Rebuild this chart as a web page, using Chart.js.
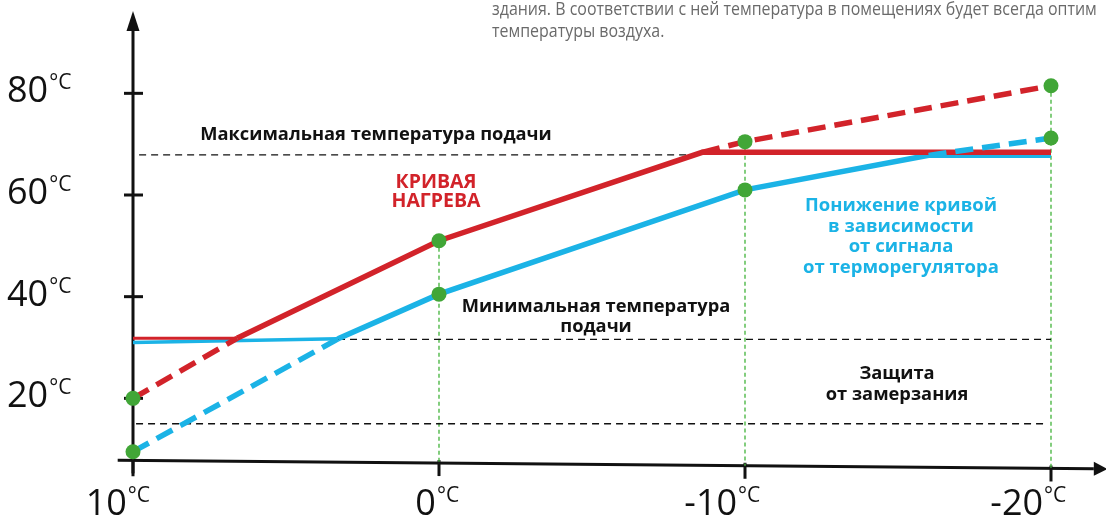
<!DOCTYPE html>
<html>
<head>
<meta charset="utf-8">
<script src="https://cdn.jsdelivr.net/npm/chart.js@4.4.1/dist/chart.umd.min.js"></script>
<style>
    html, body { margin: 0; padding: 0; background: #fff; }
    #wrap { width: 1106px; height: 522px; }
</style>
</head>
<body>
<div id="wrap"><canvas id="curveChart" width="1106" height="522"></canvas></div>
<script>
// outdoor temperature, °C (axis runs from +10 down to -20)
const outdoorTemps = [10, 0, -10, -20];
const supplyTicks = [80, 60, 40, 20];

// supply temperature at the marked outdoor temperatures
const heatingCurve = [20, 51, 70.5, 81.5];
const loweredCurve = [9.5, 40.5, 61, 71.2];

// outdoor temperature where each curve meets the min / max supply limit
const heatingBreaks = [6.6, -8.6];
const loweredBreaks = [3.3, -16.0];

// supply limits
const maxSupply = 67.9;
const minSupply = 31.6;
const frostGuard = 15;

// levels of the clamped parts of the curves
const heatingFloor = 31.8;
const heatingCap = 68.4;
const loweredFloor = [31.0, 31.7];
const loweredCap = 67.8;

// x axis line height (supply °C) at +10 and at -20
const xAxisLevel = [7.8, 6.2];

const RED = '#d2232a';
const BLUE = '#1bb3e6';
const GREEN = '#41a637';
const GREEN_LINE = '#4fb848';
const INK = '#111';

const pt = (x, y) => ({ x, y });
const axisAt = (t) => xAxisLevel[0] + (xAxisLevel[1] - xAxisLevel[0]) * (10 - t) / 30;

const line = (data, color, width, dash) => ({
    data,
    borderColor: color,
    backgroundColor: color,
    borderWidth: width,
    borderDash: dash || [],
    borderCapStyle: 'butt',
    borderJoinStyle: 'miter',
    showLine: true,
    pointRadius: 0,
    fill: false,
    clip: false,
});

const dots = {
    data: outdoorTemps.flatMap((t, i) => [pt(t, heatingCurve[i]), pt(t, loweredCurve[i])]),
    showLine: false,
    pointRadius: 7.5,
    pointBackgroundColor: GREEN,
    pointBorderWidth: 0,
    clip: false,
};

const dashColored = [18, 9];
const dashBlack = [7, 5];
const dashGreen = [4, 3];

const datasets = [
    dots,
    // lowered curve above the max limit
    line([pt(loweredBreaks[1], loweredCap), pt(-20, loweredCurve[3])], BLUE, 5.5, dashColored),
    // heating curve
    line([pt(10, heatingFloor), pt(heatingBreaks[0], heatingFloor)], RED, 3),
    line([pt(heatingBreaks[0], heatingFloor), pt(0, heatingCurve[1]), pt(heatingBreaks[1], heatingCap), pt(-20, heatingCap)], RED, 5.5),
    line([pt(10, heatingCurve[0]), pt(heatingBreaks[0], heatingFloor)], RED, 5.5, dashColored),
    line([pt(heatingBreaks[1], heatingCap), pt(-10, heatingCurve[2]), pt(-20, heatingCurve[3])], RED, 5.5, dashColored),
    // lowered curve
    line([pt(10, loweredFloor[0]), pt(loweredBreaks[0], loweredFloor[1])], BLUE, 3.5),
    line([pt(loweredBreaks[0], loweredFloor[1]), pt(0, loweredCurve[1]), pt(-10, loweredCurve[2]), pt(loweredBreaks[1], loweredCap), pt(-20, loweredCap)], BLUE, 5.5),
    line([pt(10, loweredCurve[0]), pt(loweredBreaks[0], loweredFloor[1])], BLUE, 5.5, dashColored),
    // limits
    line([pt(9.8, maxSupply), pt(heatingBreaks[1], maxSupply)], INK, 1.3, dashBlack),
    line([pt(loweredBreaks[0], minSupply), pt(-20, minSupply)], INK, 1.3, dashBlack),
    line([pt(9.9, frostGuard), pt(-19.9, frostGuard)], INK, 1.3, dashBlack),
    // drop lines from the marked points
    ...outdoorTemps.slice(1).map((t, i) => line([pt(t, heatingCurve[i + 1]), pt(t, axisAt(t))], GREEN_LINE, 1.4, dashGreen)),
];

const numFont = (size, weight) => `${weight || 'normal'} ${size}px "Open Sans", "Noto Sans", sans-serif`;

function drawDegree(ctx, value, x, baseline) {
    ctx.font = numFont(36);
    ctx.fillText(value, x, baseline);
    const w = ctx.measureText(value).width;
    ctx.font = numFont(21);
    ctx.fillText('°C', x + w + 1, baseline - 13);
}

function drawLines(ctx, lines, cx, baseline, step) {
    lines.forEach((text, i) => ctx.fillText(text, cx, baseline + i * step));
}

// narrow text: squeeze horizontally around the left edge
function drawNarrow(ctx, text, x, baseline, squeeze) {
    ctx.save();
    ctx.translate(x, baseline);
    ctx.scale(squeeze, 1);
    ctx.fillText(text, 0, 0);
    ctx.restore();
}

const schemeDecor = {
    id: 'schemeDecor',
    beforeDatasetsDraw(chart) {
        const { ctx, scales: { x, y } } = chart;
        const x0 = x.getPixelForValue(10);
        const ax = (t) => y.getPixelForValue(axisAt(t));
        ctx.save();
        ctx.strokeStyle = INK;
        ctx.fillStyle = INK;
        ctx.lineWidth = 3;
        ctx.lineCap = 'butt';

        // vertical axis with arrow
        ctx.beginPath();
        ctx.moveTo(x0, ax(10) + 16);
        ctx.lineTo(x0, 28);
        ctx.stroke();
        ctx.beginPath();
        ctx.moveTo(x0, 11);
        ctx.lineTo(x0 - 6.5, 31);
        ctx.lineTo(x0 + 6.5, 31);
        ctx.closePath();
        ctx.fill();

        // horizontal axis with arrow
        const left = 10.5, base = -21.4, tip = -21.85;
        ctx.beginPath();
        ctx.moveTo(x.getPixelForValue(left), ax(left));
        ctx.lineTo(x.getPixelForValue(base), ax(base));
        ctx.stroke();
        ctx.beginPath();
        ctx.moveTo(x.getPixelForValue(tip), ax(tip));
        ctx.lineTo(x.getPixelForValue(base), ax(base) - 7);
        ctx.lineTo(x.getPixelForValue(base), ax(base) + 7);
        ctx.closePath();
        ctx.fill();

        // tick marks
        supplyTicks.forEach((v) => {
            const py = y.getPixelForValue(v);
            ctx.beginPath();
            ctx.moveTo(x0 - 9, py);
            ctx.lineTo(x0 + 10, py);
            ctx.stroke();
        });
        outdoorTemps.forEach((t) => {
            const px = x.getPixelForValue(t);
            ctx.beginPath();
            ctx.moveTo(px, ax(t) - 3);
            ctx.lineTo(px, ax(t) + 13);
            ctx.stroke();
        });

        // tick labels
        ctx.textBaseline = 'alphabetic';
        ctx.textAlign = 'left';
        supplyTicks.forEach((v) => drawDegree(ctx, String(v), 7, y.getPixelForValue(v) + 9));
        outdoorTemps.forEach((t) => {
            const label = String(t);
            ctx.font = numFont(36);
            const w = ctx.measureText(label).width;
            drawDegree(ctx, label, x.getPixelForValue(t) - 1.15 * w, 515);
        });
        ctx.restore();
    },
    afterDraw(chart) {
        const { ctx } = chart;
        ctx.save();
        ctx.textBaseline = 'alphabetic';

        // note text above the chart
        ctx.fillStyle = '#6a6a6a';
        ctx.textAlign = 'left';
        ctx.font = '19px "Open Sans", "Noto Sans", sans-serif';
        drawNarrow(ctx, 'здания. В соответствии с ней температура в помещениях будет всегда оптим', 492, 15, 0.84);
        drawNarrow(ctx, 'температуры воздуха.', 492, 37, 0.84);

        ctx.textAlign = 'center';
        ctx.fillStyle = INK;
        ctx.font = numFont(18.3, 'bold');
        ctx.fillText('Максимальная температура подачи', 376, 140);
        drawLines(ctx, ['Минимальная температура', 'подачи'], 596, 312, 20);
        drawLines(ctx, ['Защита', 'от замерзания'], 897, 379, 21);

        ctx.fillStyle = RED;
        ctx.font = numFont(19.5, 'bold');
        drawLines(ctx, ['КРИВАЯ', 'НАГРЕВА'], 436, 188, 19);

        ctx.fillStyle = BLUE;
        ctx.font = numFont(18.5, 'bold');
        drawLines(ctx, ['Понижение кривой', 'в зависимости', 'от сигнала', 'от терморегулятора'], 901, 211, 20.5);
        ctx.restore();
    },
};

new Chart(document.getElementById('curveChart'), {
    type: 'scatter',
    data: { datasets },
    options: {
        responsive: false,
        animation: false,
        layout: { padding: { left: 133, right: 55, top: 12, bottom: 22 } },
        plugins: { legend: { display: false }, tooltip: { enabled: false } },
        scales: {
            x: { type: 'linear', reverse: true, min: -20, max: 10, display: false },
            y: { type: 'linear', min: 0, max: 96, display: false },
        },
    },
    plugins: [schemeDecor],
});
</script>
</body>
</html>
